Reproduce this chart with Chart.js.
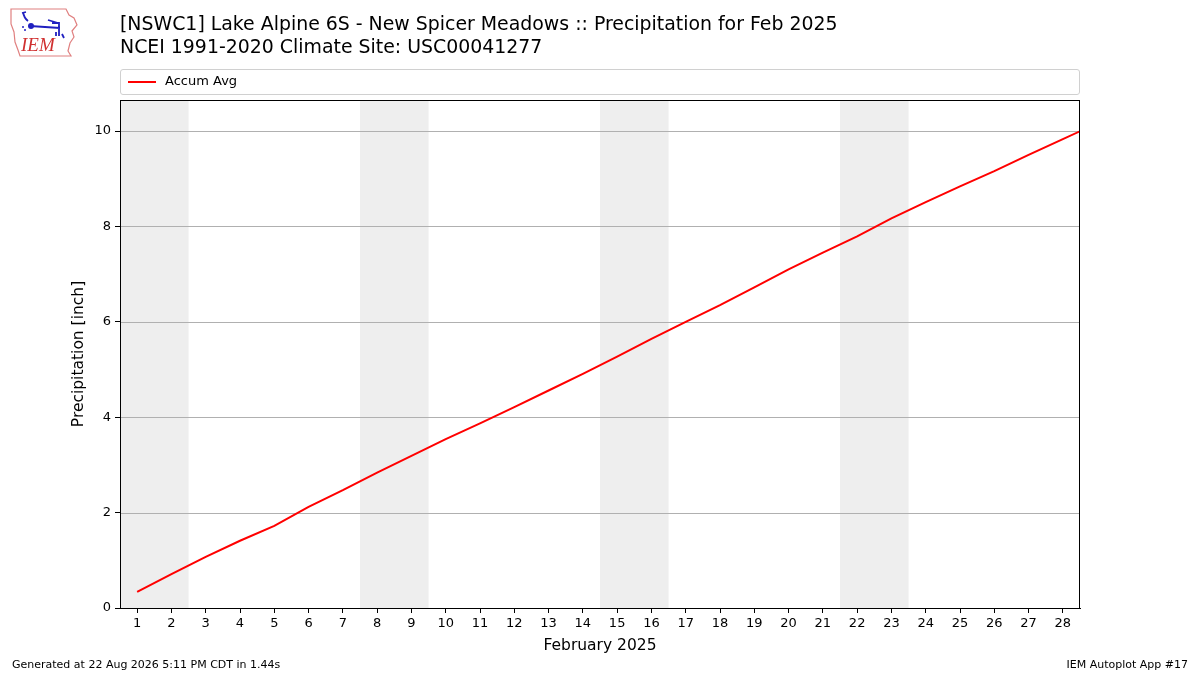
<!DOCTYPE html>
<html lang="en">
<head>
  <meta charset="UTF-8">
  <title>Precipitation for Feb 2025</title>
  <script src="https://cdn.jsdelivr.net/npm/chart.js"></script>
  <style>
    body { margin: 0; background: #fff; font-family: "DejaVu Sans", sans-serif; }
    #wrap { position: relative; width: 1200px; height: 675px; overflow: hidden; }
    #chartBox { position: absolute; left: 0; top: 0; width: 1200px; height: 675px; }
    .title { position: absolute; left: 120px; font-size: 18.9px; color: #000; white-space: nowrap; }
    .foot { position: absolute; top: 658px; font-size: 11px; color: #000; white-space: nowrap; }
    #legend { position: absolute; left: 120px; top: 69px; width: 958px; height: 24px;
      border: 1px solid #d0d0d0; border-radius: 3px; font-size: 13px; }
    #legend span.line { position: absolute; left: 7px; top: 11px; width: 28px; height: 2px; background: #ff0000; }
    #legend span.txt { position: absolute; left: 44px; top: 3px; }
    #logo { position: absolute; left: 8px; top: 6px; }
  </style>
</head>
<body>
<div id="wrap">
  <div id="chartBox"><canvas id="myChart"></canvas></div>
  <svg id="logo" width="72" height="52" viewBox="0 0 72 52">
    <path d="M3 3 L58 3 L61 9 L66 12 L69 19 L64 25 L66 31 L62 37 L60 45 L63 50 L12 50 L10 44 L7 36 L6 26 L3 18 Z"
      fill="none" stroke="#e08080" stroke-width="1.2"/>
    <path d="M15 6 Q16 12 20 15 M14 7 L18 6 M22 20 L52 22 M40 14 L50 17 L44 17 M51 16 L51 30 M48 26 L48 30 M54 28 L56 32"
      fill="none" stroke="#2020c0" stroke-width="1.8"/>
    <circle cx="23" cy="20" r="3" fill="#2020c0"/>
    <circle cx="15" cy="21" r="1" fill="#2020c0"/>
    <circle cx="17" cy="24" r="1" fill="#2020c0"/>
    <text x="13" y="45" font-family="Liberation Serif, serif" font-style="italic" font-size="19" fill="#d03030">IEM</text>
  </svg>
  <div class="title" style="top:12px">[NSWC1] Lake Alpine 6S - New Spicer Meadows :: Precipitation for Feb 2025</div>
  <div class="title" style="top:35px">NCEI 1991-2020 Climate Site: USC00041277</div>
  <div id="legend"><span class="line"></span><span class="txt">Accum Avg</span></div>
  <div class="foot" style="left:12px">Generated at 22 Aug 2026 5:11 PM CDT in 1.44s</div>
  <div class="foot" style="right:12px">IEM Autoplot App #17</div>
</div>

<script>
  // day of month (29 = Mar 1, clipped at the right edge)
  const days = [1, 2, 3, 4, 5, 6, 7, 8, 9, 10, 11, 12, 13, 14, 15,
                16, 17, 18, 19, 20, 21, 22, 23, 24, 25, 26, 27, 28, 29];
  // accumulated average precipitation [inch]
  const accumAvg = [0.34, 0.71, 1.07, 1.41, 1.72, 2.12, 2.47, 2.84, 3.19, 3.54,
                    3.87, 4.21, 4.56, 4.91, 5.27, 5.64, 6.00, 6.35, 6.72, 7.10,
                    7.45, 7.79, 8.17, 8.51, 8.84, 9.16, 9.50, 9.83, 10.16];
  const xTicks = [1, 2, 3, 4, 5, 6, 7, 8, 9, 10, 11, 12, 13, 14,
                  15, 16, 17, 18, 19, 20, 21, 22, 23, 24, 25, 26, 27, 28];
  const yTicks = [0, 2, 4, 6, 8, 10];
  // weekends (Sat, Sun)
  const weekendStart = [1, 8, 15, 22];
  const weekendEnd = [2, 9, 16, 23];

  // gray weekend bands, grid, black frame round the plot
  const bandsPlugin = {
    id: 'bands',
    beforeDatasetsDraw(chart) {
      const { ctx, chartArea, scales } = chart;
      ctx.save();
      ctx.fillStyle = '#eeeeee';
      weekendStart.forEach((d, i) => {
        const x0 = Math.max(scales.x.getPixelForValue(d - 0.5), chartArea.left);
        const x1 = Math.min(scales.x.getPixelForValue(weekendEnd[i] + 0.5), chartArea.right);
        ctx.fillRect(x0, chartArea.top, x1 - x0, chartArea.bottom - chartArea.top);
      });
      ctx.strokeStyle = '#b0b0b0';
      ctx.lineWidth = 1;
      yTicks.forEach(v => {
        const y = Math.round(scales.y.getPixelForValue(v)) + 0.5;
        ctx.beginPath();
        ctx.moveTo(chartArea.left, y);
        ctx.lineTo(chartArea.right, y);
        ctx.stroke();
      });
      ctx.restore();
    },
    afterDraw(chart) {
      const { ctx, chartArea } = chart;
      ctx.save();
      ctx.strokeStyle = '#000';
      ctx.lineWidth = 1;
      ctx.strokeRect(chartArea.left + 0.5, chartArea.top + 0.5,
        chartArea.right - chartArea.left - 1, chartArea.bottom - chartArea.top);
      ctx.restore();
    }
  };

  const ctx = document.getElementById('myChart').getContext('2d');
  const chart = new Chart(ctx, {
    type: 'line',
    data: {
      datasets: [{
        label: 'Accum Avg',
        data: days.map((d, i) => ({ x: d, y: accumAvg[i] })),
        borderColor: '#ff0000',
        borderWidth: 2,
        pointRadius: 0,
        tension: 0,
        fill: false
      }]
    },
    options: {
      responsive: true,
      maintainAspectRatio: false,
      animation: false,
      devicePixelRatio: 1,
      layout: { padding: { left: 70, right: 120, top: 100, bottom: 20 } },
      plugins: {
        legend: { display: false },
        tooltip: { enabled: false }
      },
      scales: {
        x: {
          type: 'linear',
          min: 0.5,
          max: 28.5,
          afterBuildTicks(scale) { scale.ticks = xTicks.map(v => ({ value: v })); },
          afterFit(scale) { scale.height = 47; },
          grid: { drawOnChartArea: false, drawTicks: true, tickLength: 5, color: '#000' },
          border: { color: '#000' },
          ticks: { color: '#000', font: { family: 'DejaVu Sans', size: 13 }, padding: 3, maxRotation: 0, autoSkip: false },
          title: { display: true, text: 'February 2025', color: '#000',
            font: { family: 'DejaVu Sans', size: 15.5 }, padding: { top: 2, bottom: 0 } }
        },
        y: {
          min: 0,
          max: 10.65,
          afterBuildTicks(scale) { scale.ticks = yTicks.map(v => ({ value: v })); },
          afterFit(scale) { scale.width = 50; },
          grid: { drawOnChartArea: false, color: '#000', tickLength: 5, drawTicks: true },
          border: { color: '#000' },
          ticks: { color: '#000', font: { family: 'DejaVu Sans', size: 13 }, padding: 4 },
          title: { display: true, text: 'Precipitation [inch]', color: '#000',
            font: { family: 'DejaVu Sans', size: 15.5 }, padding: { top: 0, bottom: 4 } }
        }
      }
    },
    plugins: [bandsPlugin]
  });
</script>
</body>
</html>
